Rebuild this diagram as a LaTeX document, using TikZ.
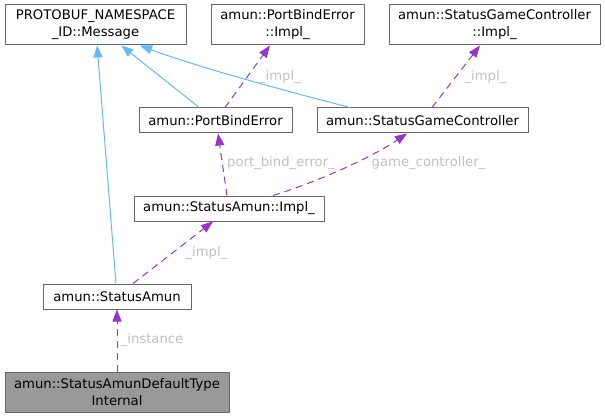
\documentclass[tikz,border=0pt]{standalone}
\usepackage{fontspec}
\setmainfont{DejaVu Sans}
\usepackage{tikz}
\usetikzlibrary{arrows.meta}

\definecolor{inheritblue}{HTML}{63B8FF}
\definecolor{usagepurple}{HTML}{9A32CD}
\definecolor{labelgrey}{HTML}{C0C0C0}
\definecolor{boxgrey}{HTML}{666666}

\begin{document}
\begin{tikzpicture}[x=1pt,y=-1pt,line join=round,
  cls/.style={draw=boxgrey,fill=white,line width=1pt,inner sep=0pt,align=center,
    font=\fontsize{13.2}{17}\selectfont},
  inherit/.style={inheritblue,line width=1pt,-{Triangle[length=12pt,width=9pt]}},
  usage/.style={usagepurple,line width=1pt,dash pattern=on 7pt off 5pt,
    -{Triangle[length=12pt,width=9pt]}},
  lbl/.style={text=labelgrey,inner sep=0pt,font=\fontsize{13.2}{15}\selectfont}]
  \useasboundingbox (0,0) rectangle (605,417);
  % classes
  \node[cls,minimum width=181pt,minimum height=40pt] (msg) at (95.5,25) {PROTOBUF\_NAMESPACE\\\_ID::Message};
  \node[cls,minimum width=153pt,minimum height=40pt] (pbeimpl) at (287.5,25) {amun::PortBindError\\::Impl\_};
  \node[cls,minimum width=211pt,minimum height=40pt] (sgcimpl) at (494.5,25) {amun::StatusGameController\\::Impl\_};
  \node[cls,minimum width=153pt,minimum height=25pt] (pbe) at (215.5,120.5) {amun::PortBindError};
  \node[cls,minimum width=211pt,minimum height=25pt] (sgc) at (422.5,120.5) {amun::StatusGameController};
  \node[cls,minimum width=190pt,minimum height=25pt] (amunimpl) at (229,208.5) {amun::StatusAmun::Impl\_};
  \node[cls,minimum width=148pt,minimum height=25pt] (amun) at (117,296.5) {amun::StatusAmun};
  \node[cls,fill={rgb,255:red,153;green,153;blue,153},minimum width=224pt,minimum height=40pt] (dti) at (117,392) {amun::StatusAmunDefaultType\\Internal};
  % inheritance
  \draw[inherit] (amun) -- (msg);
  \draw[inherit] (pbe) -- (msg);
  \draw[inherit] ([xshift=-72.5pt]sgc.north) .. controls (290,92) and (200,68) .. ([xshift=44.5pt]msg.south);
  % members
  \draw[usage] ([xshift=9.5pt]pbe.north) -- ([xshift=-17.5pt]pbeimpl.south);
  \draw[usage] ([xshift=9.5pt]sgc.north) -- ([xshift=-14.5pt]sgcimpl.south);
  \draw[usage] ([xshift=-2pt]amunimpl.north) -- ([xshift=2.5pt]pbe.south);
  \draw[usage] ([xshift=44pt]amunimpl.north) .. controls (320,181) and (372,157) .. ([xshift=-15.5pt]sgc.south);
  \draw[usage] ([xshift=16pt]amun.north) -- ([xshift=-16pt]amunimpl.south);
  \draw[usage] (dti) -- (amun);
  % labels
  \node[lbl] (l1) at (280,77) {\_impl\_};
  \node[lbl] (l2) at (485.5,77) {\_impl\_};
  \node[lbl] (l3) at (281,163) {port\_bind\_error\_};
  \node[lbl] (l4) at (428.5,163) {game\_controller\_};
  \node[lbl] (l5) at (206.5,253) {\_impl\_};
  \node[lbl] (l6) at (152,340) {\_instance};
\end{tikzpicture}
\end{document}
